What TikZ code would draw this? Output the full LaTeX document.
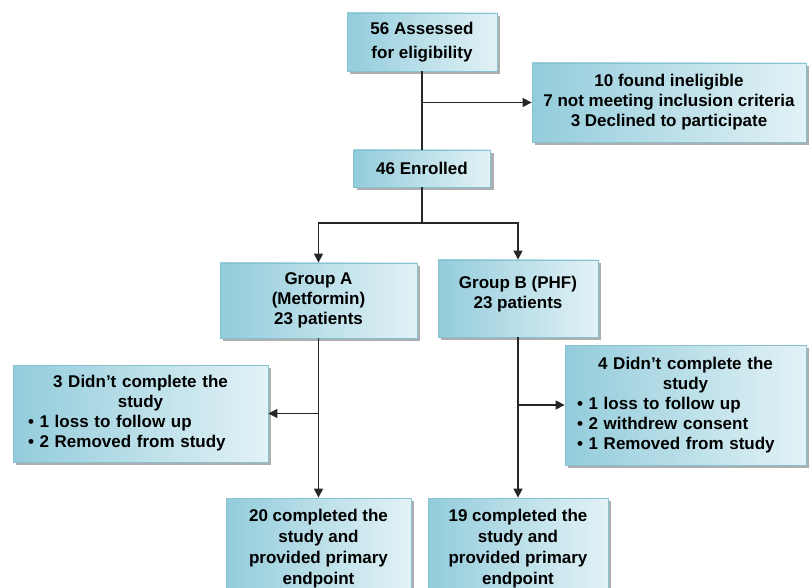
\documentclass[tikz,border=0pt]{standalone}
\usepackage{fontspec}
\setmainfont{Liberation Sans}
\usetikzlibrary{arrows.meta,shadows}
\definecolor{boxdark}{HTML}{93CCDB}
\definecolor{boxlight}{HTML}{E2F2F6}
\definecolor{boxedge}{HTML}{86C2D2}
\tikzset{
  box/.style={draw=boxedge, line width=0.8pt, left color=boxdark, right color=boxlight,
    inner sep=0pt, align=center, font=\bfseries\fontsize{17}{20}\selectfont,
    drop shadow={shadow xshift=3pt, shadow yshift=-3pt, fill=black!45, opacity=0.7}},
  conn/.style={line width=1.4pt, draw=black!85},
  arr/.style={conn, -{Triangle[length=9pt,width=9pt]}},
}
\begin{document}
\begin{tikzpicture}[x=1pt,y=-1pt]
\useasboundingbox (0,0) rectangle (809,588);
\clip (0,0) rectangle (809,588);
\node[box, minimum width=150pt, minimum height=58pt] (assess) at (422,42)
  {56 Assessed\\[4pt] for eligibility};
\node[box, minimum width=274pt, minimum height=79pt] (inel) at (669,102.5)
  {10 found ineligible\\ 7 not meeting inclusion criteria\\ 3 Declined to participate};
\node[box, minimum width=137pt, minimum height=37pt] (enrolled) at (422,168.5)
  {46 Enrolled};
\node[box, minimum width=197pt, minimum height=75pt] (gA) at (318.5,300.5)
  {Group A\\ (Metformin)\\ 23 patients};
\node[box, minimum width=160pt, minimum height=77pt] (gB) at (518,298.5)
  {Group B (PHF)\\ 23 patients\\[-7pt]\mbox{}};
\node[box, minimum width=255pt, minimum height=97pt, text width=225pt, align=left] (dropA) at (140.5,413.5)
  {\makebox[225pt]{3 Didn’t complete the}\\ \makebox[225pt]{study}\\
   \textbullet\ 1 loss to follow up\\ \textbullet\ 2 Removed from study};
\node[box, minimum width=241pt, minimum height=120pt, text width=217pt, align=left] (dropB) at (685.5,405)
  {\makebox[217pt]{4 Didn’t complete the}\\ \makebox[217pt]{study}\\
   \textbullet\ 1 loss to follow up\\ \textbullet\ 2 withdrew consent\\ \textbullet\ 1 Removed from study};
\node[box, minimum width=185pt, minimum height=102pt, font=\bfseries\fontsize{17}{21}\selectfont] (bA) at (318.5,549)
  {20 completed the\\ study and\\ provided primary\\ endpoint};
\node[box, minimum width=180pt, minimum height=102pt, font=\bfseries\fontsize{17}{21}\selectfont] (bB) at (518,549)
  {19 completed the\\ study and\\ provided primary\\ endpoint};
\coordinate (split) at (422,223);
\draw[conn] (assess.south) -- (enrolled.north);
\draw[arr] (assess.south |- inel.west) -- (inel.west);
\draw[conn] (enrolled.south) -- (split);
\draw[arr] (split) -| (gA.north);
\draw[arr] (split) -| (gB.north);
\draw[arr] (gA.south) -- (bA.north);
\draw[arr] (gA.south |- dropA.east) -- (dropA.east);
\draw[arr] (gB.south) -- (bB.north);
\draw[arr] (gB.south |- dropB.west) -- (dropB.west);
\end{tikzpicture}
\end{document}
